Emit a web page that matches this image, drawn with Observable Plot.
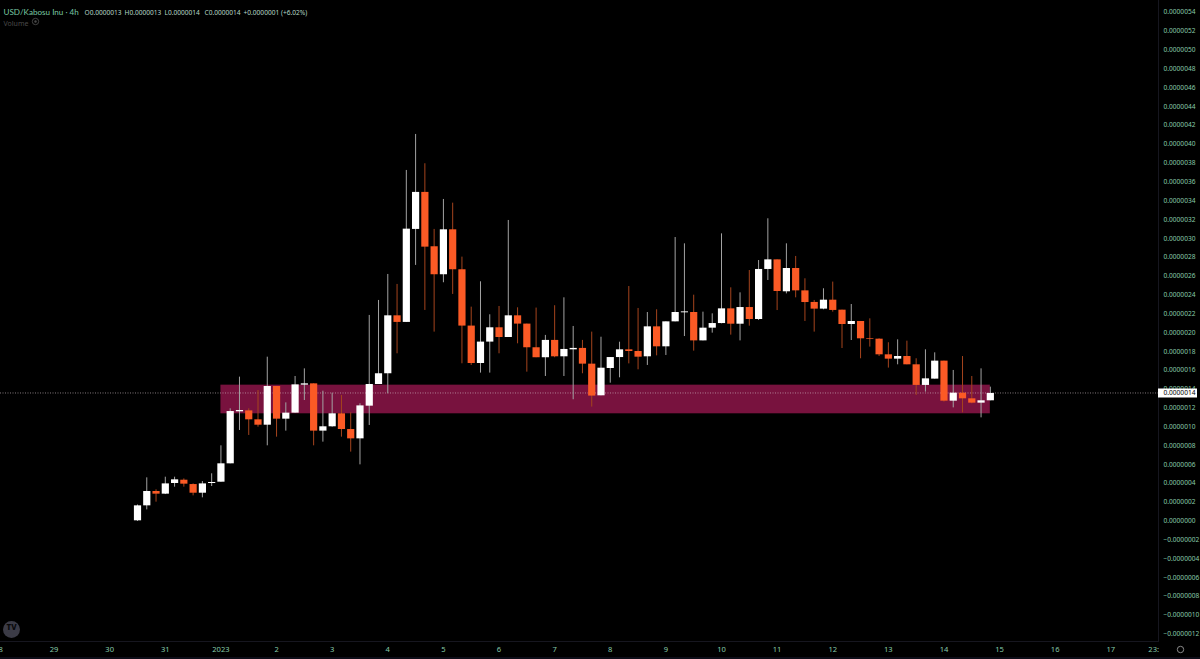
<!DOCTYPE html>
<html>
<head>
<meta charset="utf-8">
<script src="https://cdn.jsdelivr.net/npm/d3@7"></script>
<script src="https://cdn.jsdelivr.net/npm/@observablehq/plot@0.6"></script>
<style>
html,body{margin:0;padding:0;background:#0d0d18;overflow:hidden}
svg{display:block}
</style>
</head>
<body>
<div id="chart"></div>
<script>
// All prices are in units of 0.0000001
const opens = [0.02,1.61,3.13,2.85,3.98,4.33,3.87,2.95,3.98,4.12,6.07,11.59,11.69,10.74,10.17,14.28,10.81,11.45,14.42,14.56,9.54,10.00,11.38,9.71,8.72,12.19,14.49,15.63,21.78,21.08,30.95,34.88,29.11,26.14,30.91,26.67,20.69,16.72,18.99,20.51,19.48,21.78,20.90,18.39,17.33,19.17,17.43,18.17,18.32,16.65,13.29,16.19,17.35,18.17,17.99,17.43,20.61,18.49,21.14,22.10,22.13,19.12,20.47,20.96,22.52,20.89,22.66,21.39,26.70,27.72,24.33,26.80,24.43,23.20,22.49,23.44,22.38,20.86,21.18,19.37,19.30,17.64,17.18,17.46,16.58,14.39,15.06,16.97,12.72,13.57,12.97,12.51,12.76];
const highs = [1.70,4.58,3.31,4.65,4.65,4.47,3.94,4.19,5.01,7.98,11.91,15.27,11.91,13.85,17.39,14.28,12.54,15.34,16.15,14.56,13.78,13.57,13.32,11.48,12.44,21.82,23.41,26.17,25.11,37.21,41.03,37.92,30.95,34.13,33.74,28.01,22.70,25.39,21.89,22.77,31.90,22.63,20.90,22.60,19.70,22.85,23.69,20.65,19.17,20.05,19.51,17.35,18.98,24.89,22.56,22.13,22.42,21.14,30.09,29.42,23.97,22.17,21.99,30.48,24.75,24.22,26.59,27.65,32.08,27.72,29.42,28.08,25.71,23.41,24.65,25.36,22.38,22.98,21.18,21.46,19.34,18.92,19.23,19.09,17.22,18.17,17.85,16.97,15.98,17.46,15.34,16.15,14.21];
const lows = [-0.05,1.18,2.00,2.81,3.59,3.59,2.67,2.46,3.66,4.12,6.07,9.61,9.08,9.96,7.98,8.90,9.54,11.45,12.79,7.98,8.37,9.96,8.90,7.31,5.96,10.14,14.49,13.50,17.75,21.08,27.13,22.35,20.05,25.29,24.05,16.69,16.51,15.70,15.70,17.75,19.48,18.81,15.80,17.33,15.34,17.33,15.34,12.87,15.63,12.09,13.29,14.63,15.20,16.68,16.05,16.51,17.53,17.57,21.14,19.58,18.03,19.12,19.94,20.93,19.73,19.12,20.68,21.28,25.53,22.34,24.11,23.69,21.18,20.05,22.42,22.17,18.31,19.16,17.22,18.46,17.46,16.23,16.58,16.58,13.32,13.68,15.06,12.62,12.01,11.48,12.44,10.95,12.76];
const closes = [1.61,3.13,2.85,3.94,4.37,3.91,2.95,3.94,4.09,6.07,11.62,11.73,10.74,10.17,14.28,10.81,11.45,14.45,14.56,9.54,10.00,11.38,9.71,8.72,12.22,14.49,15.63,21.78,21.08,30.98,34.88,29.07,26.14,30.91,26.67,20.69,16.72,18.99,20.51,19.48,21.78,20.90,18.39,17.33,19.17,17.43,18.21,18.32,16.65,13.26,16.22,17.35,18.17,17.99,17.39,20.61,18.49,21.14,22.13,22.20,19.12,20.47,20.96,22.52,20.89,22.66,21.39,26.70,27.72,24.36,26.80,24.43,23.19,22.49,23.44,22.35,20.86,21.18,19.34,19.30,17.64,17.18,17.46,16.58,14.39,15.09,16.97,12.72,13.57,12.97,12.51,12.76,13.54];

const firstCandle = new Date(Date.UTC(2022, 11, 30, 12));
const zoneLow = 11.38, zoneHigh = 14.42;
const zoneStart = new Date(Date.UTC(2023, 0, 1, 0));
const zoneEnd = new Date(Date.UTC(2023, 0, 14, 20));
const lastPrice = 13.59;
const lastPriceLabel = "0.0000014";

const priceTicks = [54,52,50,48,46,44,42,40,38,36,34,32,30,28,26,24,22,20,18,16,14,12,10,8,6,4,2,0,-2,-4,-6,-8,-10,-12];
const timeTicks = ["2022-12-28T00:00Z","2022-12-29T00:00Z","2022-12-30T00:00Z","2022-12-31T00:00Z","2023-01-01T00:00Z","2023-01-02T00:00Z","2023-01-03T00:00Z","2023-01-04T00:00Z","2023-01-05T00:00Z","2023-01-06T00:00Z","2023-01-07T00:00Z","2023-01-08T00:00Z","2023-01-09T00:00Z","2023-01-10T00:00Z","2023-01-11T00:00Z","2023-01-12T00:00Z","2023-01-13T00:00Z","2023-01-14T00:00Z","2023-01-15T00:00Z","2023-01-16T00:00Z","2023-01-17T00:00Z","2023-01-17T18:30Z"].map(d => new Date(d));
const timeLabels = ["28","29","30","31","2023","2","3","4","5","6","7","8","9","10","11","12","13","14","15","16","17","23:"];

const titleText = "USD/Kabosu Inu · 4h";
const ohlcLabels = ["O0.0000013","H0.0000013","L0.0000014","C0.0000014"];
const changeText = "+0.0000001 (+6.02%)";

const candles = opens.map((o, i) => ({
  date: d3.utcHour.offset(firstCandle, i * 4),
  open: o, high: highs[i], low: lows[i], close: closes[i], up: closes[i] >= o
}));
const fmtPrice = v => (v < 0 ? "\u2212" : "") + (Math.abs(v) / 1e7).toFixed(7);
const green = "#86c9a8";
const ohlcColor = "#b5d6c5";

const chart = Plot.plot({
  width: 1200, height: 657,
  marginLeft: 0, marginRight: 42, marginTop: 0, marginBottom: 16,
  style: {background: "#000", fontFamily: "'Noto Sans', sans-serif", overflow: "hidden"},
  x: {type: "utc", domain: [new Date("2022-12-28T00:53Z"), new Date("2023-01-17T20:34Z")], range: [0, 1158]},
  y: {domain: [-12.79, 55.25], range: [641, 0]},
  marks: [
    Plot.rect([0], {x1: () => zoneStart, x2: () => zoneEnd, y1: () => zoneLow, y2: () => zoneHigh, fill: "#78123e"}),
    Plot.ruleY([lastPrice], {stroke: "#d8c8d0", strokeOpacity: 0.75, strokeWidth: 0.8, strokeDasharray: "1,1.5"}),
    Plot.ruleX(candles, {x: "date", y1: "low", y2: "high", stroke: d => d.up ? "#a3a3a3" : "#a5441d", strokeWidth: 1}),
    Plot.ruleX(candles, {x: "date", y1: "open", y2: "close", stroke: d => d.up ? "#ffffff" : "#fb5a25", strokeWidth: 7.2}),
    Plot.axisY({anchor: "right", ticks: priceTicks, tickFormat: fmtPrice, tickSize: 0, tickPadding: 5, label: null, color: green, fontSize: 6.6}),
    Plot.axisX({anchor: "bottom", ticks: timeTicks, tickFormat: (d, i) => timeLabels[i], tickSize: 0, tickPadding: 5, label: null, color: green, fontSize: 7.6}),
    Plot.frame({anchor: "right", stroke: "#16161f"}),
    Plot.frame({anchor: "bottom", stroke: "#16161f"}),
    Plot.ruleY([lastPrice], {stroke: "#fff", strokeWidth: 9, insetLeft: 1158, insetRight: -39}),
    Plot.text([lastPriceLabel], {frameAnchor: "right", y: () => lastPrice, dx: 5, textAnchor: "start", fill: "#000", fontSize: 6.6}),
    Plot.text([titleText], {frameAnchor: "top-left", dx: 3, dy: 9, fill: "#79c7a2", fontSize: 8.1, fontFamily: "Lato", textAnchor: "start"}),
    ...ohlcLabels.map((label, i) =>
      Plot.text([label], {frameAnchor: "top-left", dx: 84 + i * 40, dy: 9.5, fill: ohlcColor, fontSize: 6.6, textAnchor: "start"})),
    Plot.text([changeText], {frameAnchor: "top-left", dx: 243, dy: 9.5, fill: ohlcColor, fontSize: 6.6, textAnchor: "start"}),
    Plot.text(["Volume"], {frameAnchor: "top-left", dx: 3, dy: 21, fill: "#4a4a4a", fontSize: 7, textAnchor: "start"}),
    Plot.dot([0], {frameAnchor: "top-left", dx: 35, dy: 21, r: 3.2, stroke: "#4a4a4a", fill: "none", strokeWidth: 0.9}),
    Plot.dot([0], {frameAnchor: "top-left", dx: 35, dy: 21, r: 1.2, fill: "#4a4a4a", stroke: "none"}),
    Plot.dot([0], {frameAnchor: "bottom-left", dx: 11, dy: -12, r: 8.5, fill: "#3b3b46", stroke: "none"}),
    Plot.text(["TV"], {frameAnchor: "bottom-left", dx: 11, dy: -12, fill: "#08080a", fontSize: 8, fontWeight: 800, textAnchor: "middle"}),
    Plot.dot([0], {frameAnchor: "bottom-right", dx: 22, dy: 8, r: 3.2, stroke: "#8a8a8a", fill: "none", strokeWidth: 1})
  ]
});
document.getElementById("chart").append(chart);
</script>
</body>
</html>
